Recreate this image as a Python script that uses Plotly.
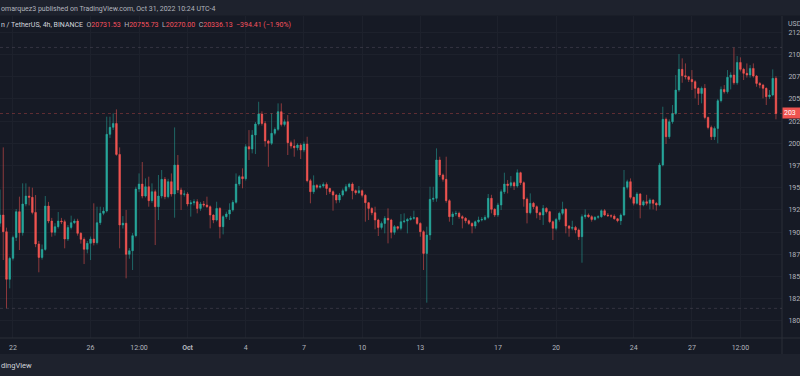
import plotly.graph_objects as go
import pandas as pd

# ---------------- data (BTCUSDT, 4h candles) ----------------
start_time = "2022-09-21 08:00"

opens = [
    19100, 19192, 19004, 18468, 18704, 18940, 19230, 18993, 19316, 19406,
    19391, 19222, 18866, 18715, 18805, 19293, 19125, 18997, 19061, 19125,
    19117, 18922, 19053, 19106, 19125, 18986, 18918, 18806, 18873, 18922,
    18881, 19106, 19211, 19237, 20101, 20180, 20224, 19875, 19080, 19100,
    18749, 18790, 18960, 19485, 19541, 19406, 19511, 19354, 19455, 19286,
    19406, 19594, 19399, 19568, 19429, 19755, 19474, 19425, 19430, 19316,
    19330, 19342, 19267, 19316, 19305, 19286, 19192, 19136, 19267, 19061,
    19174, 19204, 19249, 19335, 19541, 19624, 19601, 19962, 19935, 20093,
    20217, 20330, 20224, 20026, 20000, 20112, 20157, 20356, 20213, 20243,
    20007, 19969, 19950, 19980, 19924, 19992, 19579, 19455, 19526, 19504,
    19519, 19537, 19492, 19455, 19417, 19361, 19417, 19466, 19511, 19541,
    19466, 19444, 19466, 19414, 19331, 19267, 19218, 19136, 19053, 19098,
    19155, 19136, 18997, 19061, 19042, 19117, 19125, 19143, 19155, 19162,
    19098, 19004, 18760, 18967, 19369, 19380, 19812, 19643, 19594, 19354,
    19174, 19204, 19211, 19174, 19155, 19128, 19098, 19068, 19117, 19136,
    19143, 19166, 19380, 19256, 19192, 19305, 19455, 19541, 19526, 19556,
    19519, 19669, 19556, 19372, 19218, 19324, 19286, 19218, 19192, 19267,
    19230, 19117, 19042, 19143, 19211, 19256, 19068, 19042, 19053, 19023,
    18948, 19174, 19192, 19174, 19143, 19166, 19174, 19241, 19192, 19185,
    19180, 19150, 19128, 19192, 19504, 19568, 19391, 19324, 19429, 19305,
    19342, 19324, 19361, 19324, 19305, 19755, 20270, 20074, 20243, 20337,
    20600, 20833, 20761, 20750, 20720, 20694, 20619, 20562, 20619, 20292,
    20179, 20074, 20168, 20480, 20607, 20581, 20743, 20769, 20682, 20911,
    20833, 20788, 20769, 20844, 20758, 20675, 20656, 20619, 20525, 20544,
    20731.53,
]

highs = [
    19480, 19954, 19050, 18723, 18960, 19260, 19399, 19549, 19549, 19511,
    19500, 19417, 18900, 18860, 19406, 19340, 19160, 19100, 19226, 19160,
    19140, 19080, 19185, 19150, 19150, 19000, 18940, 18900, 18950, 19324,
    19286, 19286, 19280, 20300, 20300, 20337, 20382, 19954, 19180, 19250,
    18820, 18990, 19511, 19661, 19789, 19605, 19624, 19549, 19480, 19643,
    19699, 19620, 19600, 19661, 20179, 19868, 19500, 19470, 19450, 19360,
    19370, 19370, 19340, 19350, 19399, 19300, 19200, 19342, 19280, 19190,
    19230, 19324, 19360, 19661, 19643, 19718, 19990, 20149, 20149, 20240,
    20468, 20360, 20250, 20040, 20337, 20180, 20450, 20450, 20270, 20318,
    20030, 20044, 20000, 20000, 20020, 20074, 19600, 19639, 19540, 19540,
    19560, 19560, 19500, 19470, 19430, 19440, 19490, 19540, 19556, 19560,
    19480, 19519, 19480, 19430, 19340, 19280, 19286, 19150, 19120, 19180,
    19267, 19150, 19080, 19070, 19203, 19211, 19160, 19180, 19241, 19170,
    19110, 19020, 19061, 19511, 19511, 19943, 19849, 19660, 19849, 19370,
    19230, 19240, 19230, 19190, 19170, 19140, 19110, 19130, 19174, 19170,
    19190, 19429, 19420, 19270, 19330, 19480, 19669, 19586, 19631, 19570,
    19706, 19680, 19570, 19390, 19436, 19340, 19300, 19230, 19305, 19280,
    19240, 19130, 19160, 19230, 19342, 19270, 19080, 19128, 19070, 19040,
    19200, 19256, 19210, 19190, 19180, 19190, 19256, 19260, 19215, 19200,
    19200, 19160, 19210, 19699, 19590, 19605, 19400, 19450, 19440, 19360,
    19420, 19380, 19370, 19340, 19780, 20412, 20290, 20270, 20431, 20769,
    21005, 20957, 20900, 20760, 20825, 20710, 20630, 20640, 20667, 20300,
    20200, 20190, 20500, 20640, 20656, 20825, 20800, 21080, 20983, 20968,
    20850, 20900, 20881, 20900, 20770, 20690, 20670, 20630, 20600, 20833,
    20755.73,
]

lows = [
    19060, 18685, 18141, 18366, 18680, 18900, 18798, 18960, 19290, 19300,
    19200, 18830, 18547, 18690, 18790, 19100, 18948, 18960, 19040, 19090,
    18817, 18900, 19030, 19090, 18960, 18870, 18640, 18760, 18685, 18850,
    18860, 19080, 19190, 19220, 20060, 20150, 19860, 18817, 19040, 18479,
    18700, 18573, 18940, 19450, 19380, 19390, 19286, 19330, 18854, 19136,
    19380, 19370, 19380, 19400, 19162, 19440, 19249, 19400, 19290, 19174,
    19300, 19211, 19240, 19280, 19270, 19042, 19100, 19120, 18929, 18974,
    19150, 19136, 19230, 19320, 19520, 19493, 19580, 19812, 19887, 19879,
    20200, 20200, 19962, 19736, 19980, 20090, 20140, 20190, 20190, 19868,
    19940, 19849, 19920, 19823, 19900, 19560, 19324, 19430, 19480, 19490,
    19500, 19417, 19430, 19241, 19324, 19331, 19400, 19450, 19490, 19369,
    19420, 19430, 19390, 19117, 19136, 19190, 19031, 18956, 19030, 18986,
    18873, 18929, 18970, 19020, 19020, 19100, 18986, 19130, 19140, 19080,
    18948, 18573, 18205, 18911, 19340, 19342, 19620, 19568, 19330, 19117,
    19080, 19180, 19150, 19042, 19100, 19080, 18986, 19040, 19100, 19120,
    19130, 19150, 19211, 19170, 19170, 19249, 19430, 19436, 19500, 19474,
    19500, 19530, 19286, 19098, 19200, 19260, 19155, 19136, 19080, 19210,
    19100, 18911, 19020, 19117, 19190, 18986, 18948, 19020, 18986, 18911,
    18655, 19150, 19160, 19117, 19130, 19150, 19160, 19180, 19170, 19160,
    19140, 19110, 19080, 19180, 19480, 19370, 19300, 19310, 19155, 19290,
    19300, 19256, 19256, 19241, 19290, 19740, 19992, 20050, 20220, 20320,
    20580, 20682, 20720, 20690, 20600, 20506, 20431, 20450, 20270, 20157,
    20037, 20037, 20000, 20460, 20560, 20560, 20607, 20660, 20660, 20810,
    20713, 20740, 20740, 20740, 20637, 20620, 20506, 20431, 20500, 20530,
    20270.00,
]

closes = [
    19192, 19004, 18468, 18704, 18940, 19230, 18993, 19316, 19406, 19391,
    19222, 18866, 18715, 18805, 19293, 19125, 18997, 19061, 19125, 19117,
    18922, 19053, 19106, 19125, 18986, 18918, 18806, 18873, 18922, 18881,
    19106, 19211, 19237, 20101, 20180, 20224, 19875, 19080, 19100, 18749,
    18790, 18960, 19485, 19541, 19406, 19511, 19354, 19455, 19286, 19406,
    19594, 19399, 19568, 19429, 19755, 19474, 19425, 19430, 19316, 19330,
    19342, 19267, 19316, 19305, 19286, 19192, 19136, 19267, 19061, 19174,
    19204, 19249, 19335, 19541, 19624, 19601, 19962, 19935, 20093, 20217,
    20330, 20224, 20026, 20000, 20112, 20157, 20356, 20213, 20243, 20007,
    19969, 19950, 19980, 19924, 19992, 19579, 19455, 19526, 19504, 19519,
    19537, 19492, 19455, 19417, 19361, 19417, 19466, 19511, 19541, 19466,
    19444, 19466, 19414, 19331, 19267, 19218, 19136, 19053, 19098, 19155,
    19136, 18997, 19061, 19042, 19117, 19125, 19143, 19155, 19162, 19098,
    19004, 18760, 18967, 19369, 19380, 19812, 19643, 19594, 19354, 19174,
    19204, 19211, 19174, 19155, 19128, 19098, 19068, 19117, 19136, 19143,
    19166, 19380, 19256, 19192, 19305, 19455, 19541, 19526, 19556, 19519,
    19669, 19556, 19372, 19218, 19324, 19286, 19218, 19192, 19267, 19230,
    19117, 19042, 19143, 19211, 19256, 19068, 19042, 19053, 19023, 18948,
    19174, 19192, 19174, 19143, 19166, 19174, 19241, 19192, 19185, 19180,
    19150, 19128, 19192, 19504, 19568, 19391, 19324, 19429, 19305, 19342,
    19324, 19361, 19324, 19305, 19755, 20270, 20074, 20243, 20337, 20600,
    20833, 20761, 20750, 20720, 20694, 20619, 20562, 20619, 20292, 20179,
    20074, 20168, 20480, 20607, 20581, 20743, 20769, 20682, 20911, 20833,
    20788, 20769, 20844, 20758, 20675, 20656, 20619, 20525, 20544, 20731.53,
    20336.13,
]

x_tick_dates = ["2022-09-22", "2022-09-26", "2022-09-28 12:00", "2022-10-01",
                "2022-10-04", "2022-10-07", "2022-10-10", "2022-10-13",
                "2022-10-17", "2022-10-20", "2022-10-24", "2022-10-27",
                "2022-10-29 12:00"]
x_tick_text = ["22", "26", "12:00", "<b>Oct</b>", "4", "7", "10", "13",
               "17", "20", "24", "27", "12:00"]

# price scale (only the first digits are visible in the cropped screenshot)
y_tick_vals = [18000, 18250, 18500, 18750, 19000, 19250, 19500, 19750,
               20000, 20250, 20500, 20750, 21000, 21250]
y_tick_text = ["180", "182", "185", "187", "190", "192", "195", "197",
               "200", "202", "205", "207", "210", "212"]
last_price_label = "203"

header_text = "omarquez3 published on TradingView.com, Oct 31, 2022 10:24 UTC-4"
symbol_text = "n / TetherUS, 4h, BINANCE"
change_text = "\u2212394.41 (\u22121.90%)"
currency_text = "USD"
footer_text = "dingView"

# ---------------- styling ----------------
W, H = 800, 376
ML, MR, MT, MB = 0, 18, 16, 38
PW, PH = W - ML - MR, H - MT - MB

BG = "#161a25"
BAR = "#1e222d"
GRID = "#1d212c"
BORDER = "#2a2e39"
TXT = "#b2b5be"
UP = "#26a69a"
DOWN = "#ef5350"
UP_WICK = "rgba(38,166,154,0.55)"
DOWN_WICK = "rgba(239,83,80,0.55)"
FONT = "Roboto"


def px_x(x):
    return (x - ML) / PW


def px_y(y):
    return (H - MB - y) / PH


times = pd.date_range(start_time, periods=len(closes), freq="4h")
body_top = [max(o, c) for o, c in zip(opens, closes)]
body_bot = [min(o, c) for o, c in zip(opens, closes)]

fig = go.Figure()
# wicks
fig.add_trace(go.Candlestick(
    x=times, open=opens, high=highs, low=lows, close=closes,
    increasing=dict(line=dict(color=UP_WICK, width=1), fillcolor=UP_WICK),
    decreasing=dict(line=dict(color=DOWN_WICK, width=1), fillcolor=DOWN_WICK),
    whiskerwidth=0, hoverinfo="skip", showlegend=False,
))
# bodies
fig.add_trace(go.Candlestick(
    x=times, open=opens, high=body_top, low=body_bot, close=closes,
    increasing=dict(line=dict(color=UP, width=0), fillcolor=UP),
    decreasing=dict(line=dict(color=DOWN, width=0), fillcolor=DOWN),
    whiskerwidth=0, hoverinfo="skip", showlegend=False,
))

last_close = closes[-1]
shapes = [
    dict(type="rect", xref="paper", yref="paper", x0=px_x(0), x1=px_x(W),
         y0=px_y(15.5), y1=px_y(0), fillcolor=BAR, line=dict(width=0), layer="below"),
    dict(type="rect", xref="paper", yref="paper", x0=px_x(0), x1=px_x(W),
         y0=px_y(376), y1=px_y(354), fillcolor=BAR, line=dict(width=0), layer="below"),
    dict(type="line", xref="paper", yref="paper", x0=px_x(0), x1=px_x(W),
         y0=0, y1=0, line=dict(color=BORDER, width=1)),
    dict(type="line", xref="paper", yref="paper", x0=1, x1=1,
         y0=px_y(354), y1=1, line=dict(color=BORDER, width=1)),
    dict(type="line", xref="paper", yref="y", x0=0, x1=1, y0=max(highs), y1=max(highs),
         line=dict(color="rgba(110,100,115,0.35)", width=1, dash="dot")),
    dict(type="line", xref="paper", yref="y", x0=0, x1=1, y0=min(lows), y1=min(lows),
         line=dict(color="rgba(110,100,115,0.35)", width=1, dash="dot")),
    dict(type="line", xref="paper", yref="y", x0=0, x1=1, y0=last_close, y1=last_close,
         line=dict(color="rgba(239,83,80,0.35)", width=1, dash="dot")),
]

legend_html = (
    f'<span style="color:#d1d4dc">{symbol_text}</span>&nbsp;&nbsp;'
    f'O<span style="color:#f7525f">{opens[-1]:.2f}</span>&nbsp;&nbsp;'
    f'H<span style="color:#f7525f">{highs[-1]:.2f}</span>&nbsp;&nbsp;'
    f'L<span style="color:#f7525f">{lows[-1]:.2f}</span>&nbsp;&nbsp;'
    f'C<span style="color:#f7525f">{closes[-1]:.2f}</span>&nbsp;&nbsp;'
    f'<span style="color:#f7525f">{change_text}</span>'
)

annotations = [
    dict(text=header_text, xref="paper", yref="paper", x=px_x(-1), y=px_y(9),
         xanchor="left", yanchor="middle", showarrow=False,
         font=dict(size=7, color=TXT, family=FONT)),
    dict(text=legend_html, xref="paper", yref="paper", x=px_x(-1), y=px_y(25),
         xanchor="left", yanchor="middle", showarrow=False,
         font=dict(size=7, color=TXT, family=FONT)),
    dict(text=currency_text, xref="paper", yref="paper", x=px_x(786), y=px_y(24),
         xanchor="left", yanchor="middle", showarrow=False,
         font=dict(size=7, color=TXT, family=FONT)),
    dict(text=last_price_label, xref="paper", yref="y", x=1, y=last_close,
         xanchor="left", yanchor="middle", showarrow=False, bgcolor=DOWN,
         borderpad=1, width=15, align="left",
         font=dict(size=7, color="#ffffff", family=FONT)),
    dict(text=footer_text, xref="paper", yref="paper", x=px_x(-1), y=px_y(365),
         xanchor="left", yanchor="middle", showarrow=False,
         font=dict(size=7.5, color="#d1d4dc", family=FONT)),
]

fig.update_layout(
    width=W, height=H,
    margin=dict(l=ML, r=MR, t=MT, b=MB, pad=0),
    paper_bgcolor=BG, plot_bgcolor=BG,
    font=dict(family=FONT, size=7, color=TXT),
    showlegend=False, hovermode=False,
    shapes=shapes, annotations=annotations,
    xaxis=dict(
        type="date", range=["2022-09-21 07:58", "2022-10-31 15:28"],
        rangeslider=dict(visible=False),
        tickvals=x_tick_dates, ticktext=x_tick_text,
        showgrid=True, gridcolor=GRID, gridwidth=1,
        zeroline=False, showline=False, ticks="outside", ticklen=3,
        tickcolor="rgba(0,0,0,0)", automargin=False,
        tickfont=dict(size=7, color=TXT, family=FONT), fixedrange=True,
    ),
    yaxis=dict(
        side="right", range=[17807, 21434],
        tickvals=y_tick_vals, ticktext=y_tick_text,
        showgrid=True, gridcolor=GRID, gridwidth=1,
        zeroline=False, showline=False, ticks="outside", ticklen=4,
        tickcolor="rgba(0,0,0,0)", automargin=False,
        tickfont=dict(size=7, color=TXT, family=FONT), fixedrange=True,
    ),
)

fig.write_html(
    "out.html",
    config=dict(displayModeBar=False),
    post_script="document.body.style.margin='0px';document.body.style.overflow='hidden';",
)
